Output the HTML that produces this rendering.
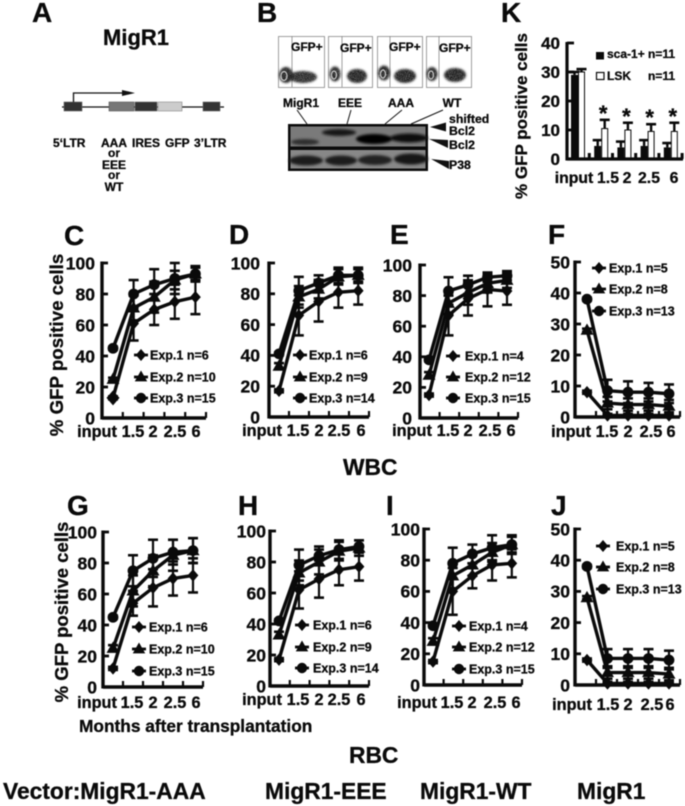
<!DOCTYPE html>
<html lang="en">
<head>
<meta charset="utf-8">
<title>GFP positive cells figure</title>
<style>
html,body{margin:0;padding:0;background:#fff;}
svg{display:block;filter:blur(0.5px);}
text{font-family:"Liberation Sans",sans-serif;font-weight:700;fill:#0a0a0a;stroke:#0a0a0a;stroke-width:.3px;}
</style>
</head>
<body>
<svg id="figure" xmlns="http://www.w3.org/2000/svg" width="685" height="806" viewBox="0 0 685 806">
  <defs>
    <filter id="soft" x="-30%" y="-50%" width="160%" height="200%"><feGaussianBlur stdDeviation="1.2"/></filter>
    <filter id="speckle" x="-20%" y="-30%" width="140%" height="160%">
      <feTurbulence type="fractalNoise" baseFrequency="1.4" numOctaves="2" seed="4" result="n"/>
      <feColorMatrix in="n" type="matrix" values="0 0 0 0 0  0 0 0 0 0  0 0 0 0 0  0 0 0 -2 2" result="a"/>
      <feGaussianBlur in="SourceGraphic" stdDeviation="1" result="b"/>
      <feComposite in="b" in2="a" operator="in"/>
    </filter>
    <clipPath id="legend-clip-c"><rect x="130" y="340" width="88" height="70"/></clipPath>
  </defs>
  <rect width="685" height="806" fill="#fff"/>

  <!-- Panel letters -->
  <g font-size="28">
    <text x="32" y="22">A</text>
    <text x="257" y="22">B</text>
    <text x="501" y="22">K</text>
    <text x="64" y="245">C</text>
    <text x="229" y="244">D</text>
    <text x="390" y="244">E</text>
    <text x="548" y="244">F</text>
    <text x="67" y="515">G</text>
    <text x="238" y="515">H</text>
    <text x="386" y="515">I</text>
    <text x="551" y="515">J</text>
  </g>

  <!-- Panel A: vector map -->
  <g>
    <text x="103" y="45" font-size="22">MigR1</text>
    <line x1="62" y1="107" x2="224" y2="107" stroke="#111" stroke-width="1.3"/>
    <rect x="64" y="102" width="18" height="9" fill="#333" stroke="#666" stroke-width=".6"/>
    <rect x="109" y="102" width="25" height="9" fill="#777" stroke="#555" stroke-width=".6"/>
    <rect x="135" y="102" width="22" height="9" fill="#333" stroke="#666" stroke-width=".6"/>
    <rect x="158" y="102" width="24" height="9" fill="#ccc" stroke="#888" stroke-width=".6"/>
    <rect x="203" y="102" width="17" height="9" fill="#333" stroke="#666" stroke-width=".6"/>
    <path d="M73.5 102V93H124" fill="none" stroke="#111" stroke-width="1.3"/>
    <path d="M122 90L135 93L122 96Z" fill="#111"/>
    <g font-size="12">
      <text x="53" y="147">5‘LTR</text>
      <text x="101" y="147">AAA</text>
      <text x="132" y="147">IRES</text>
      <text x="165" y="147">GFP</text>
      <text x="194" y="147">3’LTR</text>
      <text x="114" y="157" text-anchor="middle">or</text>
      <text x="114" y="169" text-anchor="middle">EEE</text>
      <text x="114" y="179" text-anchor="middle">or</text>
      <text x="114" y="191" text-anchor="middle">WT</text>
    </g>
  </g>

  <!-- Panel B: flow plots -->
  <g>
    <g>
      <rect x="278.5" y="36.5" width="46" height="51" fill="#fff" stroke="#888" stroke-width=".8"/>
      <line x1="292" y1="36" x2="292" y2="87" stroke="#888" stroke-width=".8"/>
      <ellipse cx="303" cy="77" rx="14" ry="6" fill="#2a2a2a" filter="url(#speckle)"/>
      <ellipse cx="286" cy="75" rx="7" ry="8" fill="#222" filter="url(#speckle)"/>
      <ellipse cx="284" cy="76" rx="3" ry="4.5" fill="none" stroke="#ccc" stroke-width="1.2"/>
      <text x="291" y="51" font-size="12">GFP+</text>
    </g>
    <g>
      <rect x="328.5" y="36.5" width="44" height="51" fill="#fff" stroke="#888" stroke-width=".8"/>
      <line x1="342" y1="36" x2="342" y2="87" stroke="#888" stroke-width=".8"/>
      <ellipse cx="357" cy="76" rx="10" ry="7" fill="#222" filter="url(#speckle)"/>
      <ellipse cx="335" cy="74" rx="5.5" ry="7.5" fill="#222" filter="url(#speckle)"/>
      <ellipse cx="334" cy="75" rx="2.5" ry="4" fill="none" stroke="#ccc" stroke-width="1.2"/>
      <text x="340" y="52" font-size="12">GFP+</text>
    </g>
    <g>
      <rect x="377.5" y="36.5" width="45" height="51" fill="#fff" stroke="#888" stroke-width=".8"/>
      <line x1="390" y1="36" x2="390" y2="87" stroke="#888" stroke-width=".8"/>
      <ellipse cx="405" cy="76" rx="11" ry="7" fill="#222" filter="url(#speckle)"/>
      <ellipse cx="384" cy="73" rx="6" ry="7.5" fill="#222" filter="url(#speckle)"/>
      <ellipse cx="383" cy="74" rx="2.5" ry="4" fill="none" stroke="#ccc" stroke-width="1.2"/>
      <text x="389" y="51" font-size="12">GFP+</text>
    </g>
    <g>
      <rect x="426.5" y="36.5" width="45" height="51" fill="#fff" stroke="#888" stroke-width=".8"/>
      <line x1="439" y1="36" x2="439" y2="87" stroke="#888" stroke-width=".8"/>
      <ellipse cx="455" cy="75" rx="11" ry="7" fill="#222" filter="url(#speckle)"/>
      <ellipse cx="432" cy="74" rx="5.5" ry="7" fill="#222" filter="url(#speckle)"/>
      <ellipse cx="431" cy="75" rx="2.5" ry="4" fill="none" stroke="#ccc" stroke-width="1.2"/>
      <text x="439" y="52" font-size="12">GFP+</text>
    </g>
    <g font-size="12">
      <text x="301" y="107" text-anchor="middle">MigR1</text>
      <text x="350" y="107" text-anchor="middle">EEE</text>
      <text x="401" y="107" text-anchor="middle">AAA</text>
      <text x="452" y="107" text-anchor="middle">WT</text>
    </g>
    <g stroke="#111" stroke-width="1">
      <line x1="297" y1="110" x2="307" y2="124"/>
      <line x1="351" y1="110" x2="347" y2="124"/>
      <line x1="402" y1="110" x2="385" y2="124"/>
      <line x1="443" y1="110" x2="411" y2="124"/>
    </g>
  </g>

  <!-- Panel B: western blot -->
  <g>
    <rect x="288" y="124" width="140" height="47" fill="#0c0c0c"/>
    <rect x="290.500" y="126.500" width="135" height="20" fill="#7a7a7a"/>
    <rect x="290.500" y="150" width="135" height="18.500" fill="#888"/>
    <g filter="url(#soft)">
      <ellipse cx="305" cy="142" rx="14" ry="3" fill="#2e2e2e"/>
      <ellipse cx="339" cy="132.500" rx="17" ry="3.4" fill="#141414"/>
      <ellipse cx="374" cy="139" rx="18" ry="5" fill="#050505"/>
      <ellipse cx="409" cy="138" rx="19" ry="4.500" fill="#111"/>
    </g>
    <g filter="url(#soft)">
      <ellipse cx="306" cy="160.500" rx="17" ry="5" fill="#1c1c1c"/>
      <ellipse cx="341" cy="160.500" rx="16" ry="5" fill="#1c1c1c"/>
      <ellipse cx="375" cy="160" rx="17" ry="5" fill="#202020"/>
      <ellipse cx="411" cy="159" rx="17" ry="5.500" fill="#181818"/>
    </g>
    <path d="M430 127L446 122.500V131.500Z" fill="#111"/>
    <path d="M429 139L448 140V148Z" fill="#111"/>
    <path d="M431 159L449 161V169Z" fill="#111"/>
    <g font-size="12.300">
      <text x="449" y="123">shifted</text>
      <text x="449" y="135">Bcl2</text>
      <text x="449" y="149">Bcl2</text>
      <text x="449" y="169">P38</text>
    </g>
  </g>

  <!-- Panel titles and footers -->
  <text x="343" y="475" font-size="22.800">WBC</text>
  <text x="349" y="763" font-size="22.800">RBC</text>
  <text x="79" y="732" font-size="17.300">Months after transplantation</text>
  <g font-size="22.800">
    <text x="3" y="799">Vector:MigR1-AAA</text>
    <text x="265" y="799">MigR1-EEE</text>
    <text x="420" y="799">MigR1-WT</text>
    <text x="577" y="799">MigR1</text>
  </g>
  <text transform="translate(63 345) rotate(-90)" text-anchor="middle" font-size="18.700">% GFP positive cells</text>
  <text transform="translate(68 612) rotate(-90)" text-anchor="middle" font-size="18.500">% GFP positive cells</text>
  <text transform="translate(527 116) rotate(-90)" text-anchor="middle" font-size="17">% GFP positive cells</text>

  <g id="charts"></g>
</svg>

<script>
// Shared categories and tick labels
const months = ['input', '1.5', '2', '2.5', '6'];
const ticksPercent = [0, 20, 40, 60, 80, 100];
const ticksLow = [0, 10, 20, 30, 40, 50];
const ticksK = [0, 10, 20, 30, 40];

// Panel C
const c1 = [13, 61, 70, 75, 78];
const c1Err = [1, 11, 10, 11, 11];
const c2 = [25, 71, 78, 89, 93];
const c2Err = [1, 8, 10, 6, 4];
const c3 = [45, 80, 86, 90, 93];
const c3Err = [1, 9, 10, 10, 5];
const cN = [6, 10, 15];
// Panel D
const d1 = [17, 66, 75, 81, 82];
const d1Err = [1, 13, 13, 10, 9];
const d2 = [33, 78, 83, 91, 92];
const d2Err = [2, 7, 6, 5, 4];
const d3 = [41, 82, 87, 92, 92];
const d3Err = [1, 9, 5, 5, 5];
const dN = [6, 9, 14];
// Panel E
const e1 = [15, 67, 78, 84, 83];
const e1Err = [1, 13, 11, 11, 9];
const e2 = [28, 75, 82, 88, 90];
const e2Err = [2, 7, 8, 6, 5];
const e3 = [38, 83, 87, 92, 93];
const e3Err = [1, 9, 6, 3, 3];
const eN = [4, 12, 15];
// Panel F
const f1 = [8, 0.5, 0.5, 0.5, 0.5];
const f1Err = [0.5, 0.5, 0.5, 0.5, 0.5];
const f2 = [28, 4.5, 4, 4, 3.5];
const f2Err = [0.5, 2, 2, 2, 2];
const f3 = [38, 8.5, 8, 8, 7.5];
const f3Err = [0.5, 3.5, 3.5, 3, 3];
const fN = [5, 8, 13];
// Panel G
const g1 = [12, 54, 64, 70, 72];
const g1Err = [1, 8, 12, 11, 11];
const g2 = [25, 62, 75, 85, 88];
const g2Err = [2, 10, 10, 10, 8];
const g3 = [45, 75, 83, 87, 88];
const g3Err = [1, 10, 12, 8, 8];
const gN = [6, 10, 15];
// Panel H
const h1 = [17, 62, 69, 75, 77];
const h1Err = [1, 12, 12, 10, 9];
const h2 = [33, 73, 80, 87, 89];
const h2Err = [2, 8, 8, 6, 5];
const h3 = [42, 78, 84, 88, 90];
const h3Err = [1, 10, 6, 6, 4];
const hN = [6, 9, 14];
// Panel I
const i1 = [15, 60, 70, 77, 78];
const i1Err = [1, 15, 8, 10, 9];
const i2 = [28, 70, 77, 85, 90];
const i2Err = [2, 8, 7, 6, 5];
const i3 = [38, 78, 84, 88, 90];
const i3Err = [1, 10, 6, 8, 6];
const iN = [4, 12, 15];
// Panel J
const j1 = [8, 0.5, 0.5, 0.5, 0.5];
const j1Err = [0.5, 0.5, 0.5, 0.5, 0.5];
const j2 = [28, 4, 4, 4, 3.5];
const j2Err = [0.5, 2, 2, 2, 2];
const j3 = [38, 8.5, 8.5, 8.5, 8];
const j3Err = [0.5, 3, 3, 3, 3];
const jN = [5, 8, 13];
// Panel K
const kCategories = ['input', '1.5', '2', '2.5', '6'];
const kSca = [29, 4.5, 4, 4.5, 4];
const kScaErr = [1, 2, 2, 2, 1.5];
const kLsk = [30, 10.5, 10, 9.5, 9.5];
const kLskErr = [1, 3, 2.5, 2.5, 3];
const kSignificant = [false, true, true, true, true];

const SVGNS = 'http://www.w3.org/2000/svg';
const root = document.getElementById('charts');

function make(parent, tag, attrs) {
  const el = document.createElementNS(SVGNS, tag);
  for (const k in attrs) el.setAttribute(k, attrs[k]);
  parent.appendChild(el);
  return el;
}

function drawMarker(parent, kind, cx, cy, r) {
  let el;
  if (kind === 0) {
    el = make(parent, 'path', {d: `M${cx} ${cy - r * 1.15}L${cx + r} ${cy}L${cx} ${cy + r * 1.15}L${cx - r} ${cy}Z`, fill: '#0a0a0a'});
  } else if (kind === 1) {
    el = make(parent, 'path', {d: `M${cx} ${cy - r * 1.25}L${cx + r * 1.2} ${cy + r * 0.85}L${cx - r * 1.2} ${cy + r * 0.85}Z`, fill: '#0a0a0a'});
  } else {
    el = make(parent, 'circle', {cx: cx, cy: cy, r: r, fill: '#0a0a0a'});
  }
  return el;
}

function lineChart(p) {
  const x = i => p.x0 + i * p.step;
  const y = v => p.y0 - (v / p.max) * (p.y0 - p.yTop);
  const g = make(root, 'g', {});
  
  

  // Axes
  const yAxis = make(g, 'line', {x1: p.axisX, y1: y(p.max) - 1.5, x2: p.axisX, y2: p.y0 + 1.5, stroke: '#0a0a0a', 'stroke-width': 3.4});
  
  
  const xAxis = make(g, 'line', {x1: p.axisX, y1: p.y0, x2: p.axisEnd, y2: p.y0, stroke: '#0a0a0a', 'stroke-width': 3.4});
  
  

  p.ticks.forEach(t => {
    make(g, 'line', {x1: p.axisX, y1: y(t), x2: p.axisX + 6, y2: y(t), stroke: '#0a0a0a', 'stroke-width': 2.8});
    const lab = make(g, 'text', {x: p.axisX - p.tickGap, y: y(t) + 6.3, 'text-anchor': 'end', 'font-size': p.tickFont});
    lab.textContent = t;
    
    
  });
  const tickStep = (p.axisEnd - p.axisX) / 5;
  for (let i = 1; i <= 5; i++) {
    const tx = p.axisX + i * tickStep;
    make(g, 'line', {x1: tx, y1: p.y0, x2: tx, y2: p.y0 - 6, stroke: '#0a0a0a', 'stroke-width': 2.2});
  }
  months.forEach((m, i) => {
    const lab = make(g, 'text', {x: i === 0 ? p.inputX : p.labelX[i - 1], y: p.labelY, 'text-anchor': 'middle', 'font-size': 16.3});
    lab.textContent = m;
    
    
  });

  // Series
  p.series.forEach((s, k) => {
    const sg = make(g, 'g', {});
    
    
    s.values.forEach((v, i) => {
      const hi = y(Math.min(v + s.err[i], p.max));
      const lo = y(Math.max(v - s.err[i], 0));
      make(sg, 'line', {x1: x(i), y1: hi, x2: x(i), y2: lo, stroke: '#0a0a0a', 'stroke-width': 2.2});
      make(sg, 'line', {x1: x(i) - 5, y1: hi, x2: x(i) + 5, y2: hi, stroke: '#0a0a0a', 'stroke-width': 2.6});
      make(sg, 'line', {x1: x(i) - 5, y1: lo, x2: x(i) + 5, y2: lo, stroke: '#0a0a0a', 'stroke-width': 2.6});
    });
    const pts = s.values.map((v, i) => x(i) + ',' + y(v)).join(' ');
    const line = make(sg, 'polyline', {points: pts, fill: 'none', stroke: '#0a0a0a', 'stroke-width': 3.4});
    
    
    s.values.forEach((v, i) => {
      const mark = drawMarker(sg, k, x(i), y(v), i === 0 && k === 0 && p.bigFirst ? 6.5 : 5.4);
      
      
    });
  });

  // Legend
  const lg = make(g, 'g', {});
  
  
  if (p.legendClip) lg.setAttribute('clip-path', 'url(#' + p.legendClip + ')');
  p.legendY.forEach((ly, k) => {
    const entry = make(lg, 'g', {});
    
    
    make(entry, 'line', {x1: p.legendX - 7, y1: ly, x2: p.legendX + 7, y2: ly, stroke: '#0a0a0a', 'stroke-width': 2.8});
    drawMarker(entry, k, p.legendX, ly, 5.2);
    const t = make(entry, 'text', {x: p.legendTextX, y: ly + 4.5, 'font-size': 12.5});
    t.textContent = 'Exp.' + (k + 1) + ' n=' + p.n[k];
  });
}

function seriesOf(a, aE, b, bE, c, cE) {
  return [{values: a, err: aE}, {values: b, err: bE}, {values: c, err: cE}];
}

lineChart({id: 'c', axisX: 102, axisEnd: 206, y0: 418, yTop: 263, max: 100, x0: 113, step: 20.6, ticks: ticksPercent, tickGap: 7, tickFont: 17.5,
  inputX: 97, labelX: [133, 153, 175, 196], labelY: 437, legendX: 141, legendTextX: 150, legendY: [355, 377, 398], legendClip: 'legend-clip-c',
  n: cN, bigFirst: true, series: seriesOf(c1, c1Err, c2, c2Err, c3, c3Err)});
lineChart({id: 'd', axisX: 269, axisEnd: 369, y0: 417, yTop: 263, max: 100, x0: 279, step: 19.8, ticks: ticksPercent, tickGap: 9, tickFont: 17.5,
  inputX: 262, labelX: [298, 319, 339, 361], labelY: 436, legendX: 300, legendTextX: 309, legendY: [355, 377, 398],
  n: dN, series: seriesOf(d1, d1Err, d2, d2Err, d3, d3Err)});
lineChart({id: 'e', axisX: 420, axisEnd: 518, y0: 418, yTop: 265, max: 100, x0: 429, step: 19.5, ticks: ticksPercent, tickGap: 8, tickFont: 17.5,
  inputX: 412, labelX: [448, 468, 490, 511], labelY: 436, legendX: 453, legendTextX: 465, legendY: [356, 377, 398],
  n: eN, series: seriesOf(e1, e1Err, e2, e2Err, e3, e3Err)});
lineChart({id: 'f', axisX: 575, axisEnd: 680, y0: 417, yTop: 262, max: 50, x0: 587, step: 20.5, ticks: ticksLow, tickGap: 5, tickFont: 17.5,
  inputX: 571, labelX: [607, 628, 651, 671], labelY: 437, legendX: 599, legendTextX: 609, legendY: [268, 289, 311],
  n: fN, series: seriesOf(f1, f1Err, f2, f2Err, f3, f3Err)});
lineChart({id: 'g', axisX: 103, axisEnd: 203, y0: 687, yTop: 532, max: 100, x0: 113, step: 20, ticks: ticksPercent, tickGap: 6, tickFont: 17.5,
  inputX: 97, labelX: [132, 153, 175, 196], labelY: 708, legendX: 139, legendTextX: 149, legendY: [627, 649, 671],
  n: gN, series: seriesOf(g1, g1Err, g2, g2Err, g3, g3Err)});
lineChart({id: 'h', axisX: 270, axisEnd: 369, y0: 686, yTop: 531, max: 100, x0: 279, step: 20, ticks: ticksPercent, tickGap: 4, tickFont: 17.5,
  inputX: 262, labelX: [298, 319, 339, 361], labelY: 705, legendX: 302, legendTextX: 313, legendY: [625, 647, 668],
  n: hN, series: seriesOf(h1, h1Err, h2, h2Err, h3, h3Err)});
lineChart({id: 'i', axisX: 424, axisEnd: 522, y0: 685, yTop: 529, max: 100, x0: 433, step: 19.7, ticks: ticksPercent, tickGap: 4, tickFont: 17.5,
  inputX: 417, labelX: [452, 472, 495, 516], labelY: 708, legendX: 459, legendTextX: 469, legendY: [626, 647, 669],
  n: iN, series: seriesOf(i1, i1Err, i2, i2Err, i3, i3Err)});
lineChart({id: 'j', axisX: 575, axisEnd: 680, y0: 685, yTop: 529, max: 50, x0: 587, step: 20.5, ticks: ticksLow, tickGap: 5, tickFont: 17.5,
  inputX: 572, labelX: [608, 628, 652, 670], labelY: 710, legendX: 603, legendTextX: 616, legendY: [546, 567, 589],
  n: jN, series: seriesOf(j1, j1Err, j2, j2Err, j3, j3Err)});

// Panel K bar chart
(function barChart() {
  const axisX = 567, axisEnd = 683, y0 = 159, yTop = 43, max = 40;
  const x = i => 578 + i * 23.2;
  const y = v => y0 - (v / max) * (y0 - yTop);
  const barW = 7;
  const g = make(root, 'g', {});
  
  

  kSca.forEach((v, i) => {
    const bar = make(g, 'rect', {x: x(i) - barW, y: y(v), width: barW, height: y0 - y(v), fill: '#0a0a0a'});
    
    
    const top = y(v + kScaErr[i]);
    make(g, 'line', {x1: x(i) - barW / 2, y1: top, x2: x(i) - barW / 2, y2: y(v), stroke: '#0a0a0a', 'stroke-width': 2.4});
    make(g, 'line', {x1: x(i) - barW / 2 - 5, y1: top, x2: x(i) - barW / 2 + 5, y2: top, stroke: '#0a0a0a', 'stroke-width': 2.6});
  });
  kLsk.forEach((v, i) => {
    const bar = make(g, 'rect', {x: x(i) + 0.5, y: y(v), width: barW - 1, height: y0 - y(v), fill: '#fff', stroke: '#0a0a0a', 'stroke-width': 1});
    
    
    const top = y(v + kLskErr[i]);
    make(g, 'line', {x1: x(i) + barW / 2, y1: top, x2: x(i) + barW / 2, y2: y(v), stroke: '#0a0a0a', 'stroke-width': 2.4});
    make(g, 'line', {x1: x(i) + barW / 2 - 5, y1: top, x2: x(i) + barW / 2 + 5, y2: top, stroke: '#0a0a0a', 'stroke-width': 2.6});
    if (kSignificant[i]) {
      const star = make(g, 'text', {x: x(i) + 2, y: top + 1, 'text-anchor': 'middle', 'font-size': 22});
      star.textContent = '*';
      
      
    }
  });

  const yAxis = make(g, 'line', {x1: axisX, y1: y(max) - 1, x2: axisX, y2: y0 + 1.5, stroke: '#0a0a0a', 'stroke-width': 3.2});
  
  
  const xAxis = make(g, 'line', {x1: axisX, y1: y0, x2: axisEnd, y2: y0, stroke: '#0a0a0a', 'stroke-width': 3.2});
  
  
  ticksK.forEach(t => {
    make(g, 'line', {x1: axisX, y1: y(t), x2: axisX + 7, y2: y(t), stroke: '#0a0a0a', 'stroke-width': 2.8});
    const lab = make(g, 'text', {x: axisX - 7, y: y(t) + 6, 'text-anchor': 'end', 'font-size': 17});
    lab.textContent = t;
    
    
  });
  for (let i = 0; i < 5; i++) {
    const tx = x(i) + 11.3;
    make(g, 'line', {x1: tx, y1: y0, x2: tx, y2: y0 - 6, stroke: '#0a0a0a', 'stroke-width': 3});
  }
  const labelCentres = [574, 608, 627, 649, 674];
  kCategories.forEach((c, i) => {
    const lab = make(g, 'text', {x: labelCentres[i], y: 183, 'text-anchor': 'middle', 'font-size': 15.8});
    lab.textContent = c;
    
    
  });

  const lg = make(g, 'g', {});
  
  
  make(lg, 'rect', {x: 596, y: 52, width: 8, height: 7.5, fill: '#0a0a0a'});
  const t1 = make(lg, 'text', {x: 607, y: 58, 'font-size': 12});
  t1.textContent = 'sca-1+ n=11';
  make(lg, 'rect', {x: 596.5, y: 72.5, width: 7.5, height: 7, fill: '#fff', stroke: '#0a0a0a', 'stroke-width': 1.2});
  const t2 = make(lg, 'text', {x: 607, y: 80, 'font-size': 12});
  t2.textContent = 'LSK';
  const t3 = make(lg, 'text', {x: 648, y: 80, 'font-size': 12});
  t3.textContent = 'n=11';
})();
</script>
</body>
</html>
